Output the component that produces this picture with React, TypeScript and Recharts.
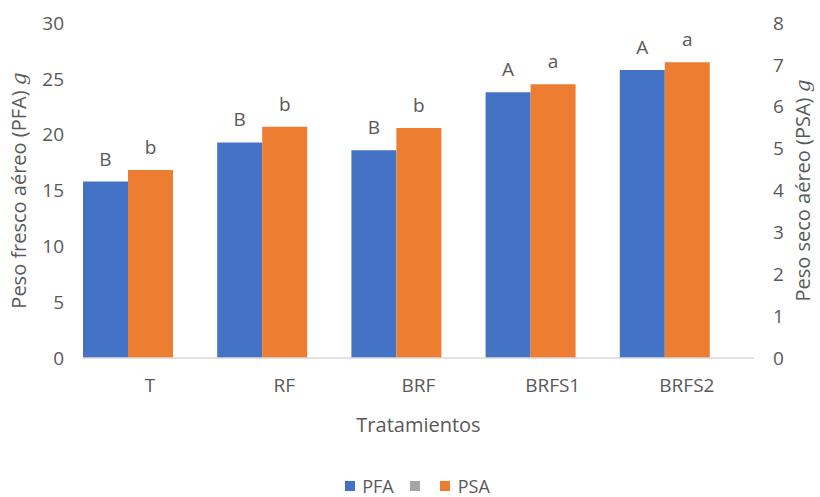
import React from 'react'
import { BarChart, Bar, XAxis, YAxis, Legend, LabelList } from 'recharts'

const tratamientos = ['T', 'RF', 'BRF', 'BRFS1', 'BRFS2']
const pfa = [15.8, 19.3, 18.6, 23.8, 25.8]
const psa = [4.49, 5.52, 5.49, 6.54, 7.06]
const pfaLetras = ['B', 'B', 'B', 'A', 'A']
const psaLetras = ['b', 'b', 'b', 'a', 'a']
const pfaTicks = [0, 5, 10, 15, 20, 25, 30]
const psaTicks = [0, 1, 2, 3, 4, 5, 6, 7, 8]

const data = tratamientos.map((t, i) => ({
  name: t,
  pfa: pfa[i],
  psa: psa[i],
  vacio: null,
  pfaLetra: pfaLetras[i],
  psaLetra: psaLetras[i],
}))

const FONT = '"Open Sans", sans-serif'
const TEXT = '#595959'
const AZUL = '#4472c4'
const NARANJA = '#ed7d31'
const GRIS = '#a5a5a5'

// rotated title for the value axes, with the unit in italics
const YTitle = ({ viewBox, text, side }: any) => {
  if (!viewBox) return null
  const cy = viewBox.y + viewBox.height / 2
  const x = side === 'left' ? viewBox.x + 26 : viewBox.x + viewBox.width - 10
  return (
    <text
      x={x}
      y={cy}
      transform={`rotate(-90 ${x} ${cy})`}
      textAnchor="middle"
      fill={TEXT}
      fontSize={20}
      fontFamily={FONT}
    >
      {text}
      <tspan fontStyle="italic" fontFamily="'DejaVu Serif', serif">g</tspan>
    </text>
  )
}

const XTitle = ({ viewBox }: any) => {
  if (!viewBox) return null
  return (
    <text
      x={viewBox.x + viewBox.width / 2}
      y={viewBox.y + 74}
      textAnchor="middle"
      fill={TEXT}
      fontSize={20}
      fontFamily={FONT}
    >
      Tratamientos
    </text>
  )
}

const Cuadro = ({ color }: { color: string }) => (
  <span style={{ display: 'inline-block', width: 10, height: 10, background: color }} />
)

const Leyenda = () => (
  <div
    style={{
      height: 22,
      display: 'flex',
      justifyContent: 'center',
      alignItems: 'center',
      paddingLeft: 15,
      fontFamily: FONT,
      fontSize: 18,
      color: TEXT,
    }}
  >
    <Cuadro color={AZUL} />
    <span style={{ marginLeft: 7, marginRight: 16 }}>PFA</span>
    <Cuadro color={GRIS} />
    <span style={{ marginRight: 20 }} />
    <Cuadro color={NARANJA} />
    <span style={{ marginLeft: 8 }}>PSA</span>
  </div>
)

export default function App() {
  return (
    <div style={{ position: 'absolute', left: 0, top: 0, background: '#fff' }}>
      <BarChart
        width={820}
        height={497}
        data={data}
        margin={{ top: 23, right: 0, bottom: 0, left: 0 }}
        barCategoryGap={0}
        barGap={0}
      >
        <XAxis
          dataKey="name"
          height={117}
          tickLine={false}
          tickSize={0}
          tickMargin={21}
          axisLine={{ stroke: '#d9d9d9', strokeWidth: 1.5 }}
          tick={{ fill: TEXT, fontSize: 19, fontFamily: FONT }}
          label={<XTitle />}
        />
        <YAxis
          yAxisId="left"
          width={83}
          domain={[0, 30]}
          ticks={pfaTicks}
          interval={0}
          axisLine={false}
          tickLine={false}
          tickSize={0}
          tickMargin={19}
          tick={{ fill: TEXT, fontSize: 19, fontFamily: FONT }}
          label={<YTitle text="Peso fresco aéreo (PFA) " side="left" />}
        />
        <YAxis
          yAxisId="right"
          orientation="right"
          width={66}
          domain={[0, 8]}
          ticks={psaTicks}
          interval={0}
          axisLine={false}
          tickLine={false}
          tickSize={0}
          tickMargin={19}
          tick={{ fill: TEXT, fontSize: 19, fontFamily: FONT, textAnchor: 'start' }}
          label={<YTitle text="Peso seco aéreo (PSA) " side="right" />}
        />
        <Legend verticalAlign="bottom" height={22} content={<Leyenda />} />
        <Bar dataKey="pfa" name="PFA" yAxisId="left" fill={AZUL} isAnimationActive={false}>
          <LabelList
            dataKey="pfaLetra"
            position="top"
            offset={16}
            fill={TEXT}
            fontSize={19}
            fontFamily={FONT}
          />
        </Bar>
        <Bar dataKey="psa" name="PSA" yAxisId="right" fill={NARANJA} isAnimationActive={false}>
          <LabelList
            dataKey="psaLetra"
            position="top"
            offset={16}
            fill={TEXT}
            fontSize={19}
            fontFamily={FONT}
          />
        </Bar>
        <Bar dataKey="vacio" name=" " yAxisId="left" fill={GRIS} isAnimationActive={false} />
      </BarChart>
    </div>
  )
}
